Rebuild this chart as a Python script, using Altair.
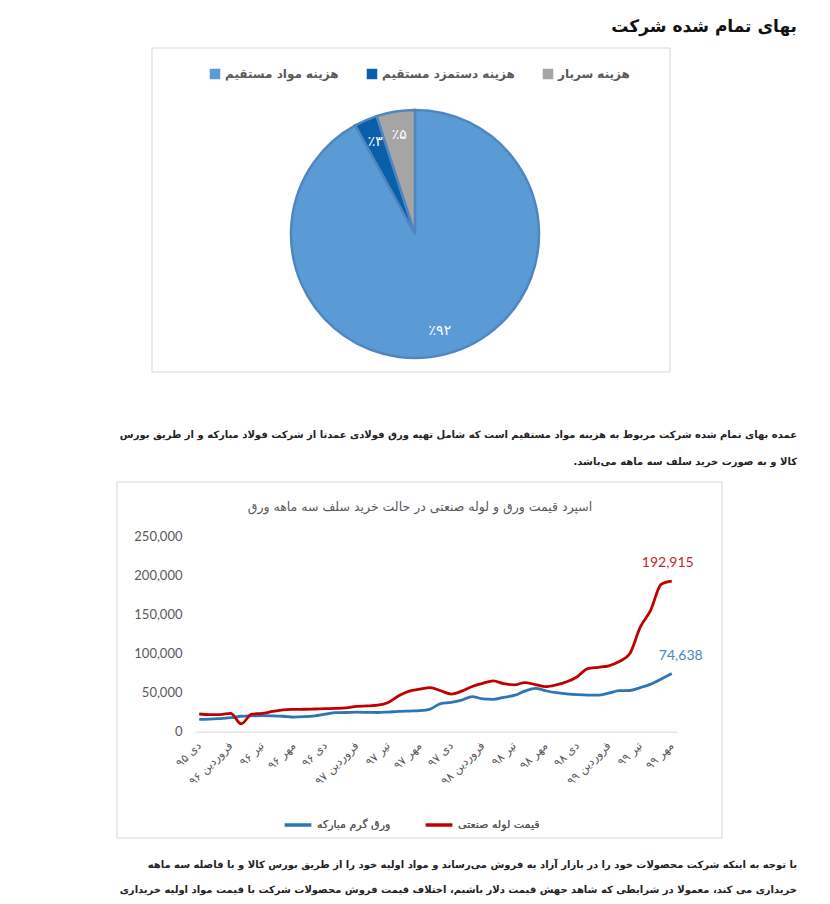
import json
import altair as alt
import pandas as pd

# ---------------- data ----------------
header_text = "بهای تمام شده شرکت"

cost_items = ["هزینه مواد مستقیم", "هزینه دستمزد مستقیم", "هزینه سربار"]
cost_shares = [92, 3, 5]
cost_colors = ["#5B9BD5", "#0A5FAA", "#A5A5A5"]

para1 = [
    "عمده بهای تمام شده شرکت مربوط به هزینه مواد مستقیم است که شامل تهیه ورق فولادی عمدتا از شرکت فولاد مبارکه و از طریق بورس",
    "کالا و به صورت خرید سلف سه ماهه می‌باشد.",
]
para2 = [
    "با توجه به اینکه شرکت محصولات خود را در بازار آزاد به فروش می‌رساند و مواد اولیه خود را از طریق بورس کالا و با فاصله سه ماهه",
    "خریداری می کند، معمولا در شرایطی که شاهد جهش قیمت دلار باشیم، اختلاف قیمت فروش محصولات شرکت با قیمت مواد اولیه خریداری",
]

line_title = "اسپرد قیمت ورق و لوله صنعتی در حالت خرید سلف سه ماهه ورق"
series_names = ["ورق گرم مبارکه", "قیمت لوله صنعتی"]
series_colors = ["#2E75B6", "#C00000"]

month_labels = ["دی ۹۵", "فروردین ۹۶", "تیر ۹۶", "مهر ۹۶", "دی ۹۶", "فروردین ۹۷",
                "تیر ۹۷", "مهر ۹۷", "دی ۹۷", "فروردین ۹۸", "تیر ۹۸", "مهر ۹۸",
                "دی ۹۸", "فروردین ۹۹", "تیر ۹۹", "مهر ۹۹"]

sheet_price = [15900, 16000, 16800, 18000, 19800, 20400, 20600, 20400, 19800, 18600,
               19200, 20400, 22500, 24500, 24600, 25000, 24800, 24600, 25200, 26000,
               26500, 27000, 29000, 36000, 37500, 40500, 45000, 42000, 41500, 44000,
               46500, 52000, 55600, 52500, 50000, 48500, 47500, 47000, 47000, 49500,
               52600, 52800, 56500, 61000, 67500, 74638]
pipe_price = [22700, 22000, 22000, 23500, 10000, 22500, 23500, 26000, 28000, 28600,
              28800, 29100, 29500, 29800, 30500, 32500, 33000, 34000, 37500, 46000,
              52000, 54500, 56500, 52500, 48300, 52000, 58000, 62000, 65200, 61500,
              60000, 63000, 60500, 57700, 60000, 64000, 70500, 81000, 82600, 84500,
              90000, 100000, 134000, 156000, 189000, 192915]
y_ticks = [0, 50000, 100000, 150000, 200000, 250000]

# ---------------- helpers ----------------
FA = "DejaVu Sans"
W, H = 814, 888
RLM = "\u200f"


def to_fa(n):
    return str(n).translate(str.maketrans("0123456789", "۰۱۲۳۴۵۶۷۸۹"))


def text_line(s, x, y, **kw):
    return alt.Chart(pd.DataFrame({"t": [RLM + s + RLM]})).mark_text(**kw).encode(
        text="t:N", x=alt.value(x), y=alt.value(y))


def box(x1, y1, x2, y2):
    return alt.Chart(pd.DataFrame({"d": [0]})).mark_rect(
        fillOpacity=0, stroke="#d9d9d9", strokeWidth=1).encode(
        x=alt.value(x1), x2=alt.value(x2), y=alt.value(y1), y2=alt.value(y2))


# ---------------- pie ----------------
pie_df = pd.DataFrame({
    "item": cost_items,
    "share": cost_shares,
    "idx": list(range(len(cost_items))),
    "lbl": ["٪" + to_fa(v) for v in cost_shares],
})
PX, PY = 407, 226

pie = alt.Chart(pie_df).mark_arc(stroke="#4F86C0", strokeWidth=2.5).encode(
    theta=alt.Theta("share:Q", stack=True),
    order=alt.Order("idx:Q"),
    color=alt.Color("item:N",
                    scale=alt.Scale(domain=cost_items, range=cost_colors),
                    legend=alt.Legend(orient="none", legendX=201, legendY=60,
                                      direction="horizontal", title=None,
                                      symbolType="square", symbolSize=110,
                                      symbolStrokeWidth=0,
                                      labelFont=FA, labelFontSize=12,
                                      labelFontWeight="bold",
                                      labelColor="#595959", columnPadding=27,
                                      labelLimit=300)),
    x=alt.value(PX), y=alt.value(PY), radius=alt.value(124),
)
pie_labels = alt.Chart(pie_df).mark_text(
    radius=100, font=FA, fontSize=14, color="white").encode(
    theta=alt.Theta("share:Q", stack=True),
    order=alt.Order("idx:Q"),
    text="lbl:N",
    x=alt.value(PX), y=alt.value(PY),
)

# ---------------- line chart ----------------
n = len(sheet_price)
line_df = pd.DataFrame({
    "i": list(range(n)) * 2,
    "v": sheet_price + pipe_price,
    "series": [series_names[0]] * n + [series_names[1]] * n,
})

labels_js = json.dumps(month_labels, ensure_ascii=False)
x_enc = alt.X("i:Q",
              scale=alt.Scale(domain=[-0.4, 45.5], range=[187, 669], nice=False, zero=False),
              axis=alt.Axis(values=list(range(0, n, 3)),
                            labelExpr=f"{labels_js}[round(datum.value/3)]",
                            labelAngle=315, labelAlign="right", labelBaseline="middle",
                            labelPadding=12, labelFont=FA, labelFontSize=11.5,
                            labelColor="#595959", labelOverlap=False, labelBound=False,
                            ticks=False, tickSize=0, grid=False,
                            domainColor="#d9d9d9", domainWidth=1,
                            offset=-(H - 723.7), title=None))
y_enc = alt.Y("v:Q",
              scale=alt.Scale(domain=[0, 250000], range=[723.7, 528.7], nice=False),
              axis=alt.Axis(values=y_ticks, format=",d", domain=False, ticks=False,
                            tickSize=0, grid=False, labelPadding=0,
                            labelFont="Lato", labelFontSize=13, labelColor="#595959",
                            offset=-174, title=None))

line_color = alt.Color("series:N",
                       scale=alt.Scale(domain=series_names, range=series_colors),
                       legend=alt.Legend(orient="none", legendX=275, legendY=802,
                                         direction="horizontal", title=None,
                                         symbolType="stroke", symbolStrokeWidth=3,
                                         symbolSize=700, labelFont=FA, labelFontSize=11,
                                         labelColor="#595959", columnPadding=28))

blue_line = alt.Chart(line_df).transform_filter(
    alt.datum.series == series_names[0]).mark_line(
    strokeWidth=2.8, interpolate="monotone").encode(x=x_enc, y=y_enc, color=line_color)
red_line = alt.Chart(line_df).transform_filter(
    alt.datum.series == series_names[1]).mark_line(
    strokeWidth=2.8, interpolate="monotone").encode(x=x_enc, y=y_enc, color=line_color)

last_df = line_df[line_df["i"] == n - 1]
red_lbl = alt.Chart(last_df).transform_filter(
    alt.datum.series == series_names[1]).mark_text(
    font="Lato", fontSize=14, color="#C0282D", dx=-4, dy=-18).encode(
    x=x_enc, y=y_enc, text=alt.Text("v:Q", format=",d"))
blue_lbl = alt.Chart(last_df).transform_filter(
    alt.datum.series == series_names[0]).mark_text(
    font="Lato", fontSize=14, color="#4A86C8", dx=9, dy=-17).encode(
    x=x_enc, y=y_enc, text=alt.Text("v:Q", format=",d"))

# ---------------- texts ----------------
RX = 789
PARA = dict(font=FA, fontSize=10, fontWeight="bold", align="right", color="#222222")
layers = [
    text_line(header_text, RX, 19, font=FA, fontSize=17, fontWeight="bold",
              align="right", color="#111111"),
    box(144, 40, 662, 364),
    pie, pie_labels,
    text_line(para1[0], RX, 427, **PARA),
    text_line(para1[1], RX, 454, **PARA),
    box(109, 474, 714, 830),
    text_line(line_title, 412, 499, font=FA, fontSize=12.5, align="center",
              color="#595959"),
    blue_line, red_line, red_lbl, blue_lbl,
    text_line(para2[0], RX, 857, **PARA),
    text_line(para2[1], RX, 882, **PARA),
]

chart = alt.layer(*layers).resolve_scale(color="independent").properties(
    width=W, height=H, padding=0,
    autosize=alt.AutoSizeParams(type="none"),
    background="white",
).configure_view(stroke=None)

chart.save("out.html", embed_options={"renderer": "svg", "actions": False})
